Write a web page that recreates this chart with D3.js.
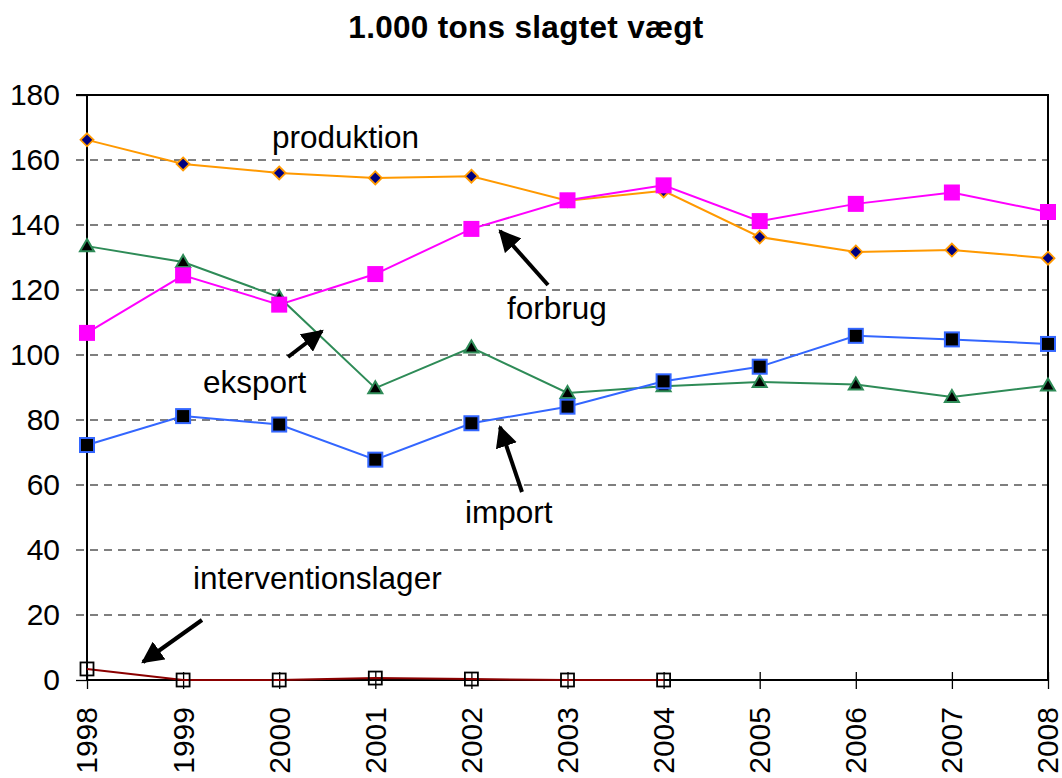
<!DOCTYPE html>
<html><head><meta charset="utf-8">
<script src="https://cdn.jsdelivr.net/npm/d3@7"></script>
<style>body{margin:0;background:#fff}svg{font-family:"Liberation Sans",Arial,sans-serif}</style>
</head><body><svg id="c" width="1062" height="778"></svg>
<script>
const years = ["1998","1999","2000","2001","2002","2003","2004","2005","2006","2007","2008"];
const produktion = [166.2,158.8,156.0,154.5,155.0,147.5,150.5,136.3,131.7,132.3,129.8];
const forbrug = [106.8,124.5,115.5,124.9,138.8,147.6,152.2,141.2,146.5,150.0,144.0];
const eksport = [133.5,128.6,117.8,89.8,102.3,88.3,90.4,91.7,90.9,87.1,90.6];
const importData = [72.3,81.2,78.6,67.8,79.0,84.1,91.9,96.4,105.9,104.8,103.4];
const interventionslager = [3.4,0,0,0.6,0.3,0,0,null,null,null,null];
const yTicks = [0,20,40,60,80,100,120,140,160,180];

const svg = d3.select("#c");
const x = d3.scalePoint().domain(years).range([87,1048]);
const y = d3.scaleLinear().domain([0,180]).range([680,95]);

svg.append("text").attr("x",526).attr("y",38).attr("text-anchor","middle")
  .attr("font-size",31.5).attr("letter-spacing",0.3).attr("font-weight","bold").text("1.000 tons slagtet vægt");

// y axis
const yAxis = d3.axisLeft(y).tickValues(yTicks).tickSize(11).tickPadding(16);
const gy = svg.append("g").attr("transform","translate(87,0)").call(yAxis);
gy.select(".domain").remove();
gy.selectAll(".tick line").attr("stroke","#000").attr("stroke-width",1.3);
gy.selectAll(".tick text").attr("font-size",30).attr("fill","#000").attr("font-family","Liberation Sans, Arial");
svg.append("g").selectAll("line").data(yTicks.filter(d=>d>0 && d<180)).join("line")
  .attr("x1",76).attr("x2",1048).attr("y1",d=>y(d)).attr("y2",d=>y(d))
  .attr("stroke","#555").attr("stroke-width",1.3).attr("stroke-dasharray","8,6");
gy.selectAll(".tick").filter(d=>d>0&&d<180).select("line").remove();
// frame
svg.append("rect").attr("x",87).attr("y",95).attr("width",961).attr("height",585)
  .attr("fill","none").attr("stroke","#000").attr("stroke-width",2);
svg.append("line").attr("x1",76).attr("x2",87).attr("y1",y(180)).attr("y2",y(180)).attr("stroke","#000").attr("stroke-width",2);

// x axis
const xAxis = d3.axisBottom(x).tickSize(9).tickPadding(0);
const gx = svg.append("g").attr("transform","translate(0,680)").call(xAxis);
gx.select(".domain").remove();
gx.selectAll(".tick line").attr("y1",-8).attr("y2",9).attr("stroke","#000").attr("stroke-width",1.3);
gx.selectAll(".tick text").attr("font-size",30).attr("fill","#000").attr("font-family","Liberation Sans, Arial")
  .attr("transform","rotate(-90)").attr("text-anchor","end").attr("x",-27).attr("y",0).attr("dy","0.33em");

function line(data,color,w){
  const l = d3.line().defined(d=>d!=null).x((d,i)=>x(years[i])).y(d=>y(d));
  svg.append("path").datum(data).attr("d",l).attr("fill","none").attr("stroke",color).attr("stroke-width",w);
}
line(interventionslager,"#8B0000",2);
line(eksport,"#2E8B57",2);
line(importData,"#3366FF",2);
line(produktion,"#FF9900",2);
line(forbrug,"#FF00FF",2);

// markers
const pts = (data)=>data.map((v,i)=>({v,i})).filter(d=>d.v!=null);
svg.append("g").selectAll("rect").data(pts(interventionslager)).join("rect")
  .attr("x",d=>x(years[d.i])-6.5).attr("y",d=>y(d.v)-6.5).attr("width",13).attr("height",13)
  .attr("fill","none").attr("stroke","#000").attr("stroke-width",1.8);
svg.append("g").selectAll("path").data(pts(eksport)).join("path")
  .attr("d",d=>{const cx=x(years[d.i]),cy=y(d.v);return `M${cx},${cy-7}L${cx+7},${cy+5}L${cx-7},${cy+5}Z`;})
  .attr("fill","#000").attr("stroke","#2E8B57").attr("stroke-width",2);
svg.append("g").selectAll("rect").data(pts(importData)).join("rect")
  .attr("x",d=>x(years[d.i])-7).attr("y",d=>y(d.v)-7).attr("width",14).attr("height",14)
  .attr("fill","#000").attr("stroke","#3366FF").attr("stroke-width",2);
svg.append("g").selectAll("path").data(pts(produktion)).join("path")
  .attr("d",d=>{const cx=x(years[d.i]),cy=y(d.v);return `M${cx},${cy-6.5}L${cx+6.5},${cy}L${cx},${cy+6.5}L${cx-6.5},${cy}Z`;})
  .attr("fill","#000080").attr("stroke","#FF9900").attr("stroke-width",1.8);
svg.append("g").selectAll("rect").data(pts(forbrug)).join("rect")
  .attr("x",d=>x(years[d.i])-8).attr("y",d=>y(d.v)-8).attr("width",16).attr("height",16)
  .attr("fill","#FF00FF");

// labels
const labels = [["produktion",272,148],["forbrug",507,319],["eksport",203,393],["import",465,523],["interventionslager",193,589]];
svg.append("g").selectAll("text").data(labels).join("text")
  .attr("x",d=>d[1]).attr("y",d=>d[2]).attr("font-size",31.5).attr("fill","#000").text(d=>d[0]);

// arrows
svg.append("defs").append("marker").attr("id","ah").attr("viewBox","0 0 10 10").attr("refX",9).attr("refY",5)
  .attr("markerWidth",5.5).attr("markerHeight",5.5).attr("orient","auto")
  .append("path").attr("d","M0,0L10,5L0,10Z").attr("fill","#000");
const arrows = [[548,285,500,231],[288,357,322,331],[522,492,500,427],[202,620,143,662]];
svg.append("g").selectAll("line").data(arrows).join("line")
  .attr("x1",d=>d[0]).attr("y1",d=>d[1]).attr("x2",d=>d[2]).attr("y2",d=>d[3])
  .attr("stroke","#000").attr("stroke-width",4).attr("marker-end","url(#ah)");
</script></body></html>
